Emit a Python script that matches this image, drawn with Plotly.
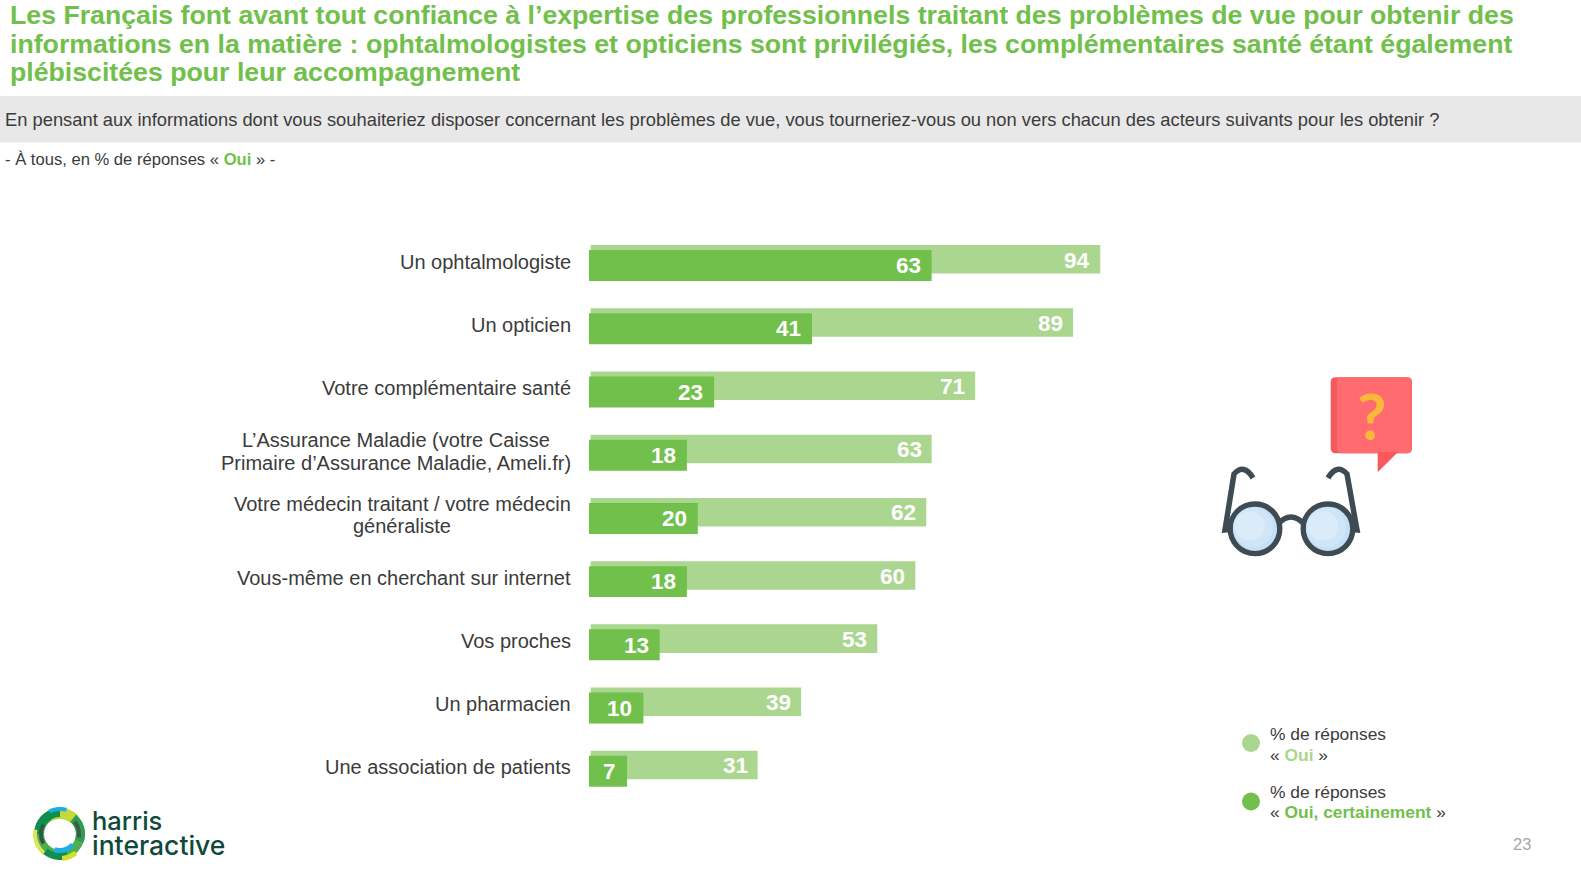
import math
import plotly.graph_objects as go

W, H = 1581, 871
CATEGORIES = ["Un ophtalmologiste", "Un opticien", "Votre complémentaire santé",
              "L’Assurance Maladie (votre Caisse<br>Primaire d’Assurance Maladie, Ameli.fr)",
              "Votre médecin traitant / votre médecin<br>généraliste",
              "Vous-même en cherchant sur internet", "Vos proches", "Un pharmacien",
              "Une association de patients"]
OUI = [94, 89, 71, 63, 62, 60, 53, 39, 31]
OUI_CERTAINEMENT = [63, 41, 23, 18, 20, 18, 13, 10, 7]

TITLE_LINES = ["Les Français font avant tout confiance à l’expertise des professionnels traitant des problèmes de vue pour obtenir des",
               "informations en la matière : ophtalmologistes et opticiens sont privilégiés, les complémentaires santé étant également",
               "plébiscitées pour leur accompagnement"]
QUESTION = "En pensant aux informations dont vous souhaiteriez disposer concernant les problèmes de vue, vous tourneriez-vous ou non vers chacun des acteurs suivants pour les obtenir ?"

GREEN, LIGHT = "#71C04B", "#ABD68F"
TXT = "#3B3B3B"
FONT = "Liberation Sans"

# plot-area geometry (pixels)
L, T, PW, PH = 589, 231, 545, 569
def px(x): return (x - L) / PW
def py(y): return 1 - (y - T) / PH

fig = go.Figure()
LIGHT_BASE = 0.3
fig.add_trace(go.Bar(name="% de réponses « Oui »", orientation="h", y=CATEGORIES,
                     x=[v - LIGHT_BASE for v in OUI], base=LIGHT_BASE, width=0.451, offset=-0.278,
                     marker=dict(color=LIGHT, line_width=0), hoverinfo="skip"))
fig.add_trace(go.Bar(name="% de réponses « Oui, certainement »", orientation="h", y=CATEGORIES,
                     x=OUI_CERTAINEMENT, width=0.49, offset=-0.199,
                     marker=dict(color=GREEN, line_width=0), hoverinfo="skip"))

ann = []
def text(x, y, s, size, color=TXT, anchor="left", bold=False, family=FONT, weight=None, **kw):
    f = dict(family=family, size=size, color=color)
    if weight:
        f["weight"] = weight
    ann.append(dict(xref="paper", yref="paper", x=px(x), y=py(y), text=f"<b>{s}</b>" if bold else s,
                    showarrow=False, xanchor=anchor, yanchor="middle", align="left", font=f, **kw))

# value labels
for cat, a, b in zip(CATEGORIES, OUI, OUI_CERTAINEMENT):
    ann.append(dict(xref="x", yref="y", x=a, y=cat, text=f"<b>{a}</b>", showarrow=False, xanchor="right",
                    yanchor="middle", xshift=-8, yshift=2.6, font=dict(family=FONT, size=22.5, color="white")))
    ann.append(dict(xref="x", yref="y", x=b, y=cat, text=f"<b>{b}</b>", showarrow=False, xanchor="right",
                    yanchor="middle", xshift=-9, yshift=-3.1, font=dict(family=FONT, size=22.5, color="white")))

# category labels
CENTERS = {3: 395.8, 4: 402.3}
for i, cat in enumerate(CATEGORIES):
    parts = cat.split("<br>")
    if len(parts) == 1:
        ann.append(dict(xref="paper", yref="y", x=px(573), y=cat, text=cat, showarrow=False, xanchor="right",
                        yanchor="middle", yshift=1, font=dict(family=FONT, size=20, color=TXT)))
    else:
        for sign, part in zip((12, -10.8), parts):
            ann.append(dict(xref="paper", yref="y", x=px(CENTERS[i]), y=cat, text=part, showarrow=False,
                            xanchor="center", yanchor="middle", yshift=sign,
                            font=dict(family=FONT, size=20, color=TXT)))

# header
for yy, line in zip((15, 44.3, 72), TITLE_LINES):
    text(8, yy, line, 26.7, GREEN, bold=True)
text(3.3, 119.5, QUESTION, 18.33, TXT)
text(3, 159.5, f'- À tous, en % de réponses « <b><span style="color:{GREEN}">Oui</span></b> » -', 16.6, TXT)

# legend
for yy, l1, l2 in ((733.5, "% de réponses", f'« <b><span style="color:{LIGHT}">Oui</span></b> »'),
                   (791.5, "% de réponses", f'« <b><span style="color:{GREEN}">Oui, certainement</span></b> »')):
    text(1268, yy, l1, 17.4, TXT)
    text(1268, yy + 21, l2, 17.4, TXT)
text(1522, 843.5, "23", 16.5, "#A6A6A6", anchor="center")

# logo text
text(90, 820.3, "harris", 25.5, "#0E4A3A", family="Inter", weight=500)
text(90, 844.8, "interactive", 26.5, "#0E4A3A", family="Inter", weight=500)
# question mark
text(1371, 415, "?", 64, "#F8B83A", anchor="center", bold=True, family="Lato")

shapes = [dict(type="rect", xref="paper", yref="paper", x0=px(-5), x1=px(W + 5), y0=py(96), y1=py(142.5),
               fillcolor="#E8E8E8", line_width=0, layer="below")]
def circle(cx, cy, r, fill, line=None, lw=0):
    shapes.append(dict(type="circle", xref="paper", yref="paper", x0=px(cx - r), x1=px(cx + r),
                       y0=py(cy + r), y1=py(cy - r), fillcolor=fill, line=dict(color=line or fill, width=lw)))
def path(d_points, fill=None, line=None, lw=0):
    """d_points: list of (cmd, x, y, ...) in pixels"""
    out = []
    for p in d_points:
        c, vals = p[0], p[1:]
        coords = [px(v) if i % 2 == 0 else py(v) for i, v in enumerate(vals)]
        out.append(c + " " + " ".join(f"{v:.5f}" for v in coords))
    shapes.append(dict(type="path", xref="paper", yref="paper", path=" ".join(out) + (" Z" if fill else ""),
                       fillcolor=fill or "rgba(0,0,0,0)", line=dict(color=line or "rgba(0,0,0,0)", width=lw)))
def sector(cx, cy, r0, r1, a0, a1, fill):
    pts = []
    n = 24
    for i in range(n + 1):
        a = math.radians(a0 + (a1 - a0) * i / n)
        pts.append((cx + r1 * math.cos(a), cy + r1 * math.sin(a)))
    for i in range(n, -1, -1):
        a = math.radians(a0 + (a1 - a0) * i / n)
        pts.append((cx + r0 * math.cos(a), cy + r0 * math.sin(a)))
    path([("M" if i == 0 else "L", x, y) for i, (x, y) in enumerate(pts)], fill=fill)

# legend dots
circle(1251, 743, 9, LIGHT)
circle(1251, 801.5, 9, GREEN)

# speech bubble
def rrect(x0, y0, x1, y1, r):
    return [("M", x0 + r, y0), ("L", x1 - r, y0), ("Q", x1, y0, x1, y0 + r), ("L", x1, y1 - r),
            ("Q", x1, y1, x1 - r, y1), ("L", x0 + r, y1), ("Q", x0, y1, x0, y1 - r), ("L", x0, y0 + r),
            ("Q", x0, y0, x0 + r, y0)]
path(rrect(1330.7, 377.3, 1412, 453.3, 5), fill="#F25A5C")
path(rrect(1337, 377.3, 1412, 453.3, 5), fill="#FF6B6E")
path([("M", 1377.7, 452), ("L", 1398, 452), ("L", 1377.7, 472.3)], fill="#F9595C")

# glasses
DARK = "#3F4B52"
for pts in ([("M", 1254, 527), ("L", 1225, 530), ("L", 1234, 474), ("Q", 1244, 463, 1253, 478)],
            [("M", 1329, 527), ("L", 1357, 530), ("L", 1347, 474), ("Q", 1337, 463, 1328, 478)]):
    path(pts, line=DARK, lw=5.5)
for cx in (1255, 1328):
    circle(cx, 528.8, 24.8, "#C4DFF6", DARK, 5.4)
    circle(cx - 2, 527.5, 20, "#CFE5F8")
    circle(cx - 5, 526, 15, "#DAEBFA")
path([("M", 1278, 524), ("Q", 1291, 510, 1304, 524)], line=DARK, lw=5.5)

# logo ring
cx, cy = 60, 834
for a0, a1, r0, r1, col in ((0, 360, 16, 25, "#4FAE4E"),
                            (-120, -45, 15, 26, "#C5D93A"),
                            (180, 270, 17, 26, "#0F8F4F"),
                            (245, 285, 23, 27, "#1FAEE0"),
                            (-50, 20, 16, 25, "#2F9E55"),
                            (-40, 10, 17, 21, "#3B5F45"),
                            (130, 190, 23, 27, "#DDE65A"),
                            (150, 210, 17, 21, "#2F5B43"),
                            (70, 130, 19, 26, "#0F8F4F"),
                            (40, 110, 14, 19, "#1FAEE0"),
                            (50, 85, 22, 27, "#D3DF2E")):
    sector(cx, cy, r0, r1, a0, a1, col)

fig.update_layout(width=W, height=H, autosize=False, barmode="overlay", showlegend=False,
                  paper_bgcolor="white", plot_bgcolor="white",
                  margin=dict(l=L, t=T, r=W - L - PW, b=H - T - PH, pad=0),
                  xaxis=dict(range=[0, 100.2], visible=False, fixedrange=True),
                  yaxis=dict(type="category", categoryorder="array", categoryarray=CATEGORIES,
                             range=[8.5, -0.5], visible=False, fixedrange=True),
                  annotations=ann, shapes=shapes)
fig.write_html("out.html", config={"displayModeBar": False},
               post_script="document.body.style.margin='0';document.body.style.overflow='hidden';")
